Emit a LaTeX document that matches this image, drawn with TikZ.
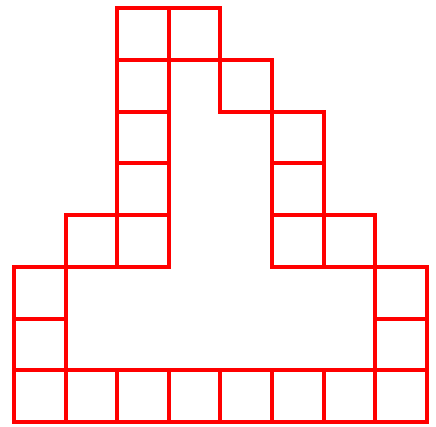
\documentclass[tikz,border=0pt]{standalone}
\begin{document}
\begin{tikzpicture}[x=1pt,y=-1pt,cell/.style={draw=red,line width=4pt}]
\useasboundingbox (0,0) rectangle (436,426);
\def\cw{51.6}
\def\ch{51.75}
\foreach \c/\r in {2/0,3/0,2/1,4/1,2/2,5/2,2/3,5/3,1/4,2/4,5/4,6/4,0/5,7/5,0/6,7/6,0/7,1/7,2/7,3/7,4/7,5/7,6/7,7/7}{
  \draw[cell] ({14+\c*\cw},{8+\r*\ch}) rectangle ({14+(\c+1)*\cw},{8+(\r+1)*\ch});
}
\end{tikzpicture}
\end{document}
